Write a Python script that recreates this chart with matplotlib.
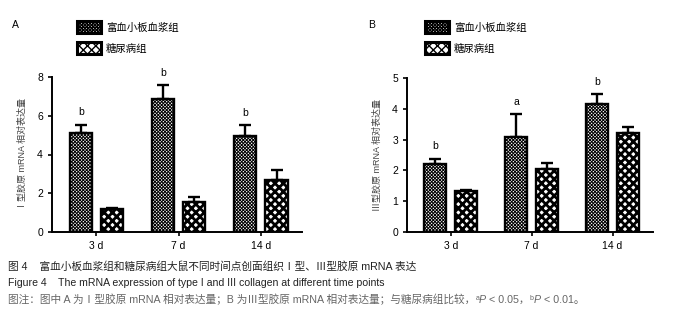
import numpy as np
import matplotlib
matplotlib.use("Agg")
import matplotlib.pyplot as plt

plt.rcParams['font.family'] = ['Liberation Sans', 'Noto Sans CJK SC', 'DejaVu Sans']

# data
days = ['3 d', '7 d', '14 d']
groups = ['富血小板血浆组', '糖尿病组']

col1_prp = [5.1, 6.85, 4.95]
col1_prp_err = [0.42, 0.72, 0.55]
col1_dm = [1.2, 1.55, 2.7]
col1_dm_err = [0.05, 0.25, 0.5]
col1_sig = ['b', 'b', 'b']

col3_prp = [2.2, 3.1, 4.15]
col3_prp_err = [0.18, 0.72, 0.32]
col3_dm = [1.32, 2.05, 3.2]
col3_dm_err = [0.05, 0.2, 0.22]
col3_sig = ['b', 'a', 'b']

fig = plt.figure(figsize=(6.85, 3.24), dpi=100)


def panel(rect, prp, prp_err, dm, dm_err, sig, ymax, ylabel, letter, letter_x, leg_x):
    ax = fig.add_axes(rect)
    x = np.arange(len(days))
    w = 0.27
    off = 0.19
    with plt.rc_context({'hatch.linewidth': 0.7}):
        b1 = ax.bar(x - off, prp, w, color='white', edgecolor='black', linewidth=1.7,
                    hatch='xxxxxxxxxx', zorder=2)
    with plt.rc_context({'hatch.linewidth': 2.0}):
        b2 = ax.bar(x + off, dm, w, color='white', edgecolor='black', linewidth=1.7,
                    hatch='xxxx', zorder=2)
    ax.errorbar(x - off, prp, yerr=[np.zeros(3), prp_err], fmt='none', ecolor='black',
                elinewidth=1.7, capsize=4, capthick=1.7, zorder=1)
    ax.errorbar(x + off, dm, yerr=[np.zeros(3), dm_err], fmt='none', ecolor='black',
                elinewidth=1.7, capsize=4, capthick=1.7, zorder=1)
    for xi, v, e, s in zip(x - off, prp, prp_err, sig):
        ax.text(xi, v + e + ymax * 0.05, s, ha='center', va='bottom', fontsize=7.5,
                clip_on=False)
    ax.set_xlim(-0.54, 2.5)
    ax.set_ylim(0, ymax)
    ax.set_xticks(x)
    ax.set_xticklabels(days, fontsize=7.5)
    ax.set_yticks(np.arange(0, ymax + 1, 2 if ymax == 8 else 1))
    ax.tick_params(axis='y', labelsize=7.5, width=1.2, length=3)
    ax.tick_params(axis='x', width=1.2, length=3)
    for s in ['top', 'right']:
        ax.spines[s].set_visible(False)
    for s in ['left', 'bottom']:
        ax.spines[s].set_linewidth(1.4)
    ax.set_ylabel(ylabel, fontsize=6.5, color='#444444', labelpad=7)
    fig.text(letter_x, 1 - 25 / 324, letter, fontsize=7.5, va='center')
    leg = fig.legend([b1, b2], groups, loc='upper left', bbox_to_anchor=(leg_x, 1 - 21 / 324),
                     frameon=False, fontsize=7.5, handlelength=2.3, handleheight=1.4,
                     labelspacing=0.9, handletextpad=0.5, borderaxespad=0, borderpad=0)
    for h in leg.legend_handles:
        h.set_linewidth(2.2)
    return ax


panel([52 / 685, 1 - 232 / 324, 250 / 685, 155 / 324], col1_prp, col1_prp_err, col1_dm,
      col1_dm_err, col1_sig, 8, 'Ⅰ型胶原 mRNA 相对表达量', 'A', 12 / 685, 77 / 685)
panel([407 / 685, 1 - 232 / 324, 246 / 685, 154 / 324], col3_prp, col3_prp_err, col3_dm,
      col3_dm_err, col3_sig, 5, 'Ⅲ型胶原 mRNA 相对表达量', 'B', 368 / 685, 425 / 685)

fig.text(8 / 685, 1 - 267 / 324, '图 4    富血小板血浆组和糖尿病组大鼠不同时间点创面组织Ⅰ型、Ⅲ型胶原 mRNA 表达',
         fontsize=7.7, va='center', color='#222222')
fig.text(8 / 685, 1 - 283 / 324, 'Figure 4    The mRNA expression of type I and III collagen at different time points',
         fontsize=7.6, va='center', color='#222222')

# note line: pieces placed one after another (superscript letters, italic P)
note_parts = [
    ('图注：图中 A 为Ⅰ型胶原 mRNA 相对表达量；B 为Ⅲ型胶原 mRNA 相对表达量；与糖尿病组比较，', 'normal', 7.7, 0),
    ('a', 'normal', 5.0, 3),
    ('P', 'italic', 7.7, 0),
    (' < 0.05，', 'normal', 7.7, 0),
    ('b', 'normal', 5.0, 3),
    ('P', 'italic', 7.7, 0),
    (' < 0.01。', 'normal', 7.7, 0),
]
base_y = 1 - 303 / 324
x_next = 8 / 685
for txt, style, size, rise in note_parts:
    t = fig.text(x_next, base_y + rise / 324, txt, fontsize=size, style=style,
                 color='#666666', va='baseline')
    fig.canvas.draw()
    x_next = t.get_window_extent().x1 / fig.bbox.width

fig.savefig('out.png', dpi=100, facecolor='white')
